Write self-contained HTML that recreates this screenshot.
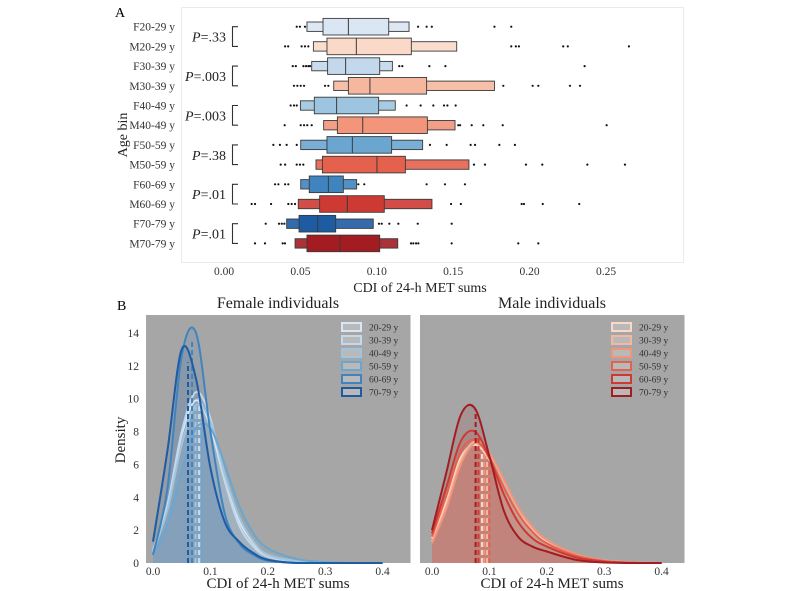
<!DOCTYPE html>
<html><head><meta charset="utf-8"><style>
html,body{margin:0;padding:0;background:#fff;}
svg{display:block;font-family:"Liberation Serif",serif;}
</style></head><body>
<svg id="fig" width="800" height="591" viewBox="0 0 800 591" xmlns="http://www.w3.org/2000/svg"></svg>
<script>
// ===== Panel A data =====
const rowLabels=["F20-29 y","M20-29 y","F30-39 y","M30-39 y","F40-49 y","M40-49 y","F50-59 y","M50-59 y","F60-69 y","M60-69 y","F70-79 y","M70-79 y"];
const outerLo=[0.0543,0.0585,0.0574,0.0718,0.0500,0.0652,0.0502,0.0602,0.0502,0.0486,0.0410,0.0465];
const innerLo=[0.0648,0.0674,0.0678,0.0814,0.0591,0.0742,0.0674,0.0644,0.0558,0.0626,0.0491,0.0543];
const medians=[0.0814,0.0866,0.0796,0.0955,0.0737,0.0908,0.0840,0.1001,0.0683,0.0807,0.0613,0.0759];
const innerHi=[0.1078,0.1226,0.1019,0.1326,0.1012,0.1331,0.1097,0.1187,0.0781,0.1049,0.0731,0.1019];
const outerHi=[0.1211,0.1523,0.1102,0.1770,0.1121,0.1512,0.1300,0.1603,0.0868,0.1361,0.0977,0.1137];
const outliers=[
 [0.0476,0.0497,0.053,0.127,0.1326,0.136,0.177,0.188],
 [0.040,0.042,0.0508,0.053,0.0552,0.188,0.191,0.193,0.222,0.225,0.265],
 [0.045,0.047,0.052,0.0537,0.0552,0.0563,0.1147,0.1167,0.1344,0.1449,0.236],
 [0.0458,0.048,0.0502,0.0524,0.0661,0.0683,0.1828,0.202,0.2057,0.2264,0.233],
 [0.0436,0.0458,0.0476,0.1195,0.1287,0.137,0.144,0.1462,0.1516],
 [0.0397,0.0502,0.0524,0.0545,0.0574,0.1533,0.1545,0.1621,0.1697,0.1824,0.2504],
 [0.0323,0.0366,0.041,0.0476,0.1348,0.1457,0.1614,0.1643,0.1802,0.1904],
 [0.0371,0.040,0.0476,0.0497,0.0519,0.1636,0.1708,0.1976,0.2083,0.2378,0.2624],
 [0.0334,0.0356,0.040,0.0421,0.0879,0.0918,0.1326,0.1446,0.1577],
 [0.0181,0.0203,0.0308,0.0421,0.0443,0.0465,0.1486,0.155,0.1948,0.1963,0.2086,0.2325],
 [0.0273,0.036,0.0378,0.0395,0.1014,0.1032,0.1082,0.1141,0.1268,0.149],
 [0.0203,0.0268,0.0384,0.0399,0.1224,0.1239,0.1257,0.1272,0.149,0.1926,0.2057]
];
const pLabels=[".33",".003",".003",".38",".01",".01"];
const xTicksA=[0,0.05,0.10,0.15,0.20,0.25];
const xTickLabelsA=["0.00","0.05","0.10","0.15","0.20","0.25"];
// ===== Panel B data =====
const grid=[0,0.025,0.05,0.075,0.1,0.125,0.15,0.175,0.2,0.25,0.3,0.35,0.4];
const ageGroups=["20-29 y","30-39 y","40-49 y","50-59 y","60-69 y","70-79 y"];
const femaleDens=[
 [0.7,3.5,7.8,9.9,8.3,5.0,2.6,1.2,0.5,0.1,0,0,0],
 [0.8,3.5,8.0,10.4,8.8,5.0,2.3,1.0,0.4,0.05,0,0,0],
 [0.7,3.2,7.2,9.6,8.6,5.4,2.8,1.3,0.5,0.1,0,0,0],
 [0.5,2.3,5.6,8.2,8.2,6.0,3.5,1.8,0.9,0.25,0.05,0,0],
 [0.5,4.5,12.6,14.0,8.0,3.0,1.2,0.5,0.15,0,0,0,0],
 [1.3,6.8,13.0,11.2,5.8,2.5,1.3,0.6,0.2,0,0,0,0]
];
const maleDens=[
 [1.5,3.8,6.4,7.2,6.3,4.6,3.0,2.0,1.3,0.5,0.15,0.03,0],
 [1.3,3.5,6.2,7.4,6.7,5.0,3.3,2.1,1.4,0.5,0.15,0.03,0],
 [1.2,3.3,6.0,7.3,6.7,5.1,3.4,2.2,1.4,0.55,0.15,0.03,0],
 [1.6,4.1,6.8,7.5,6.4,4.6,3.0,1.9,1.2,0.45,0.12,0.02,0],
 [1.8,4.6,7.4,8.0,6.4,4.2,2.5,1.5,1.0,0.35,0.08,0,0],
 [2.0,5.5,9.0,9.4,6.5,3.2,1.6,1.0,0.7,0.2,0.03,0,0]
];
const femaleMed=[0.081,0.080,0.074,0.084,0.068,0.061];
const maleMed=[0.087,0.096,0.091,0.100,0.081,0.076];
const xTicksB=[0,0.1,0.2,0.3,0.4];
const yTicksB=[0,2,4,6,8,10,12,14];

const blues=["#dae6f3","#c3d8ec","#9dc5e0","#6aa6d0","#3f84bf","#1d5ba3"];
const reds=["#fbd9c9","#f6b79f","#f2957a","#e4614d","#cd3a33","#a21c22"];

const NS="http://www.w3.org/2000/svg";
const svg=document.getElementById('fig');
function mk(tag,attrs,parent){const e=document.createElementNS(NS,tag);for(const k in attrs)e.setAttribute(k,attrs[k]);(parent||svg).appendChild(e);return e;}
function txt(s,attrs,parent){const e=mk('text',attrs,parent);e.textContent=s;return e;}

// ---- Panel A ----
const xA=v=>224+v*1528;
const yA=i=>26.7+i*19.7;
const gA=mk('g',{});


let t=txt("A",{x:115,y:17,'font-size':14});

let fr=mk('rect',{x:181.5,y:7.5,width:502,height:255,fill:'#fff',stroke:'#ebebeb','stroke-width':1},gA);

for(let i=0;i<rowLabels.length;i++){
  const y=yA(i);
  const col=(i%2===0)?blues[i/2]:reds[(i-1)/2];
  let l=txt(rowLabels[i],{x:175,y:y+4,'font-size':11.5,'text-anchor':'end',fill:'#333'},gA);
  
  let o=mk('rect',{x:xA(outerLo[i]),y:y-4.7,width:xA(outerHi[i])-xA(outerLo[i]),height:9.4,fill:col,stroke:'#3a3a3a','stroke-width':0.9,'fill-opacity':0.9},gA);
  
  let b=mk('rect',{x:xA(innerLo[i]),y:y-8.3,width:xA(innerHi[i])-xA(innerLo[i]),height:16.6,fill:col,stroke:'#3a3a3a','stroke-width':0.9},gA);
  
  let m=mk('line',{x1:xA(medians[i]),x2:xA(medians[i]),y1:y-8.3,y2:y+8.3,stroke:'#3a3a3a','stroke-width':1},gA);
  
  for(const v of outliers[i]){
    let d=mk('circle',{cx:xA(v),cy:y,r:1.1,fill:'#111'},gA);
    
  }
}
for(let k=0;k<pLabels.length;k++){
  const y1=yA(2*k),y2=yA(2*k+1),ym=(y1+y2)/2;
  const p=txt("",{x:226,y:ym+5,'font-size':14,'text-anchor':'end',fill:'#222'},gA);
  
  const ts=document.createElementNS(NS,'tspan');ts.setAttribute('font-style','italic');ts.textContent='P';p.appendChild(ts);
  p.appendChild(document.createTextNode('='+pLabels[k]));
  let br=mk('path',{d:`M238,${y1} H232.5 V${y2} H238`,fill:'none',stroke:'#333','stroke-width':1.1},gA);
  
}
for(let k=0;k<xTicksA.length;k++){
  let l=txt(xTickLabelsA[k],{x:xA(xTicksA[k]),y:275,'font-size':11.5,'text-anchor':'middle',fill:'#333'},gA);
  
}
t=txt("CDI of 24-h MET sums",{x:420,y:292,'font-size':14,'text-anchor':'middle',fill:'#222'},gA);

t=txt("Age bin",{x:0,y:0,'font-size':14,'text-anchor':'middle',fill:'#222',transform:'translate(127,135) rotate(-90)'},gA);


// ---- Panel B ----
t=txt("B",{x:117,y:310,'font-size':14});

const yB=v=>563-v*16.43;
function interp(arr,x){for(let j=0;j<grid.length-1;j++){if(x>=grid[j]&&x<=grid[j+1]){const f=(x-grid[j])/(grid[j+1]-grid[j]);return arr[j]+(arr[j+1]-arr[j])*f;}}return 0;}
function smooth(pts){let d=`M${pts[0][0]},${pts[0][1]}`;for(let i=0;i<pts.length-1;i++){const p0=pts[Math.max(0,i-1)],p1=pts[i],p2=pts[i+1],p3=pts[Math.min(pts.length-1,i+2)];
 const c1x=p1[0]+(p2[0]-p0[0])/6,c1y=p1[1]+(p2[1]-p0[1])/6,c2x=p2[0]-(p3[0]-p1[0])/6,c2y=p2[1]-(p3[1]-p1[1])/6;
 d+=` C${c1x},${Math.min(563,c1y)} ${c2x},${Math.min(563,c2y)} ${p2[0]},${p2[1]}`;}return d;}
function panel(left,x0,title,dens,meds,cols,legX,name){
  const g=mk('g',{});
  
  
  const xB=v=>x0+v*574;
  let r=mk('rect',{x:left,y:315,width:264.5,height:248,fill:'#a6a6a6'},g);
  
  let tt=txt(title,{x:left+132,y:308,'font-size':16,'text-anchor':'middle',fill:'#222'},g);
  
  for(let s=0;s<dens.length;s++){
    const pts=grid.map((gx,j)=>[xB(gx),yB(dens[s][j])]);
    const d=smooth(pts);
    let f=mk('path',{d:d+` L${xB(0.4)},563 L${xB(0)},563 Z`,fill:cols[s],'fill-opacity':0.13,stroke:'none'},g);
    
  }
  for(let s=0;s<dens.length;s++){
    const pts=grid.map((gx,j)=>[xB(gx),yB(dens[s][j])]);
    let c=mk('path',{d:smooth(pts),fill:'none',stroke:cols[s],'stroke-width':2},g);
    
    const mx=xB(meds[s]);
    let ml=mk('line',{x1:mx,x2:mx,y1:563,y2:yB(interp(dens[s],meds[s])),stroke:cols[s],'stroke-width':2,'stroke-dasharray':'5,3'},g);
    
  }
  for(const v of xTicksB){
    let l=txt(v.toFixed(1),{x:xB(v),y:575,'font-size':11.5,'text-anchor':'middle',fill:'#333'},g);
    
  }
  let xt=txt("CDI of 24-h MET sums",{x:left+132,y:588,'font-size':15,'text-anchor':'middle',fill:'#222'},g);
  
  const lg=mk('g',{},g);
  
  for(let s=0;s<ageGroups.length;s++){
    const ly=327+s*13;
    let e=mk('g',{},lg);
    
    mk('rect',{x:legX,y:ly-4,width:19,height:8,fill:'#b9b9b9',stroke:cols[s],'stroke-width':2},e);
    txt(ageGroups[s],{x:legX+27,y:ly+3.5,'font-size':9.5,fill:'#333'},e);
  }
}
panel(146,153,"Female individuals",femaleDens,femaleMed,blues,342,'panel-b-female');
panel(420,432,"Male individuals",maleDens,maleMed,reds,612,'panel-b-male');
for(const v of yTicksB){
  let l=txt(String(v),{x:139,y:yB(v)+4,'font-size':11.5,'text-anchor':'end',fill:'#333'});
  
}
t=txt("Density",{x:0,y:0,'font-size':15,'text-anchor':'middle',fill:'#222',transform:'translate(125,440) rotate(-90)'});

</script>
</body></html>
